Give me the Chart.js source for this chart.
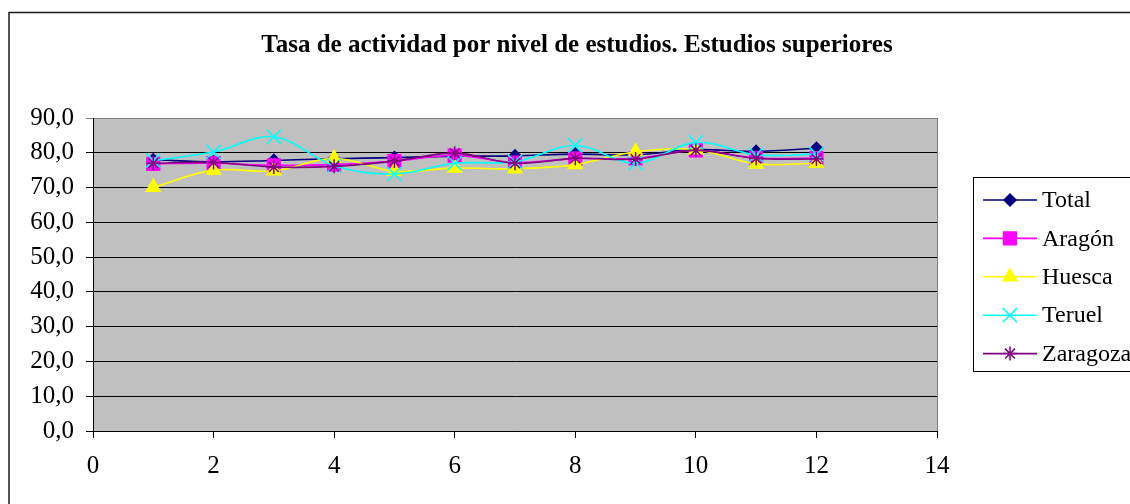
<!DOCTYPE html>
<html>
<head>
<meta charset="utf-8">
<script src="https://cdn.jsdelivr.net/npm/chart.js@4.4.0/dist/chart.umd.min.js"></script>
<style>
    html, body { margin: 0; padding: 0; background: #fff; }
    #wrap { width: 1130px; height: 504px; position: relative; }
</style>
</head>
<body>
<div id="wrap"><canvas id="tasaChart" width="1130" height="504"></canvas></div>
<script>
// chart data
const chartTitle = 'Tasa de actividad por nivel de estudios. Estudios superiores';
const xValues = [1, 2, 3, 4, 5, 6, 7, 8, 9, 10, 11, 12];
const seriesNames = ['Total', 'Aragón', 'Huesca', 'Teruel', 'Zaragoza'];
const total    = [78.0, 77.4, 77.8, 78.3, 78.6, 79.0, 79.1, 79.6, 79.4, 80.9, 80.4, 81.3];
const aragon   = [76.8, 77.0, 76.4, 76.6, 77.6, 79.2, 77.2, 78.3, 78.4, 80.7, 78.5, 78.5];
const huesca   = [70.1, 75.0, 74.8, 78.4, 74.7, 75.6, 75.4, 76.6, 80.3, 80.9, 76.8, 77.0];
const teruel   = [77.8, 80.2, 84.6, 76.3, 73.9, 77.0, 77.4, 82.1, 77.0, 83.0, 79.4, 79.6];
const zaragoza = [77.0, 77.2, 75.9, 76.1, 77.6, 79.9, 77.0, 78.4, 78.2, 80.7, 78.4, 78.2];
const seriesValues = [total, aragon, huesca, teruel, zaragoza];

const seriesColors = ['#000080', '#FF00FF', '#FFFF00', '#00FFFF', '#800080'];
const seriesMarkers = ['rectRot', 'rect', 'triangle', 'crossRot', 'star'];
const seriesMarkerSize = [6, 9, 8, 10, 7];

const serifFont = "'Liberation Serif', 'Times New Roman', serif";

const toPoints = (values) => values.map((v, i) => ({ x: xValues[i], y: v }));

const datasets = seriesNames.map((name, i) => ({
    label: name,
    data: toPoints(seriesValues[i]),
    borderColor: seriesColors[i],
    backgroundColor: seriesColors[i],
    borderWidth: 1.6,
    pointStyle: seriesMarkers[i],
    pointRadius: seriesMarkerSize[i],
    pointBorderWidth: 1.5,
    pointBorderColor: seriesColors[i],
    pointBackgroundColor: seriesColors[i],
    tension: 0.35,
    order: seriesNames.length - i
}));

// grey plot area + outer frame
const plotBackground = {
    id: 'plotBackground',
    beforeDraw(chart) {
        const { ctx, chartArea } = chart;
        ctx.save();
        ctx.fillStyle = '#fff';
        ctx.fillRect(0, 0, chart.width, chart.height);
        ctx.strokeStyle = '#1a1a1a';
        ctx.lineWidth = 1.5;
        ctx.strokeRect(9, 12.5, 1200, 600);
        ctx.fillStyle = '#C0C0C0';
        ctx.fillRect(chartArea.left, chartArea.top, chartArea.right - chartArea.left, chartArea.bottom - chartArea.top);
        ctx.strokeStyle = '#808080';
        ctx.lineWidth = 1;
        ctx.strokeRect(chartArea.left + 0.5, chartArea.top + 0.5, chartArea.right - chartArea.left, chartArea.bottom - chartArea.top);
        ctx.restore();
    }
};

// title and boxed legend (line + marker) like the spreadsheet original
const titleAndLegend = {
    id: 'titleAndLegend',
    afterDraw(chart) {
        const { ctx } = chart;
        ctx.save();
        ctx.fillStyle = '#000';
        ctx.font = 'bold 25px ' + serifFont;
        ctx.textAlign = 'center';
        ctx.textBaseline = 'middle';
        ctx.fillText(chartTitle, 577, 46);

        const boxX = 973.5, boxY = 177.5, boxH = 194;
        ctx.fillStyle = '#fff';
        ctx.fillRect(boxX, boxY, 300, boxH);
        ctx.strokeStyle = '#000';
        ctx.lineWidth = 1;
        ctx.strokeRect(boxX, boxY, 300, boxH);

        chart.data.datasets.forEach((ds, i) => {
            const y = 200 + i * 38.4;
            ctx.strokeStyle = ds.borderColor;
            ctx.lineWidth = 1.6;
            ctx.beginPath();
            ctx.moveTo(983, y);
            ctx.lineTo(1037, y);
            ctx.stroke();
            ctx.fillStyle = ds.pointBackgroundColor;
            ctx.strokeStyle = ds.pointBorderColor;
            ctx.lineWidth = 1.5;
            Chart.helpers.drawPoint(ctx, {
                pointStyle: ds.pointStyle,
                radius: ds.pointRadius,
                rotation: 0,
                borderWidth: 1.5
            }, 1010, y);
            ctx.fillStyle = '#000';
            ctx.font = '24px ' + serifFont;
            ctx.textAlign = 'left';
            ctx.textBaseline = 'middle';
            ctx.fillText(ds.label, 1042, y + 1);
        });
        ctx.restore();
    }
};

new Chart(document.getElementById('tasaChart'), {
    type: 'line',
    data: { datasets: datasets },
    options: {
        responsive: false,
        animation: false,
        devicePixelRatio: 1,
        layout: { padding: { left: 0, top: 118, right: 193, bottom: 0 } },
        plugins: {
            legend: { display: false },
            title: { display: false },
            tooltip: { enabled: false }
        },
        scales: {
            x: {
                type: 'linear',
                min: 0,
                max: 14,
                afterFit: (scale) => { scale.height = 73; },
                ticks: {
                    stepSize: 2,
                    color: '#000',
                    padding: 13,
                    maxRotation: 0,
                    font: { family: serifFont, size: 25 }
                },
                grid: { drawOnChartArea: false, color: '#000', tickLength: 7 },
                border: { color: '#000', width: 1 }
            },
            y: {
                min: 0,
                max: 90,
                afterFit: (scale) => { scale.width = 93; },
                ticks: {
                    stepSize: 10,
                    color: '#000',
                    padding: 12,
                    font: { family: serifFont, size: 25 },
                    callback: (v) => v.toFixed(1).replace('.', ',')
                },
                grid: {
                    color: (c) => (c.tick && c.tick.value === 90 ? '#808080' : '#000'),
                    lineWidth: 1,
                    tickLength: 7
                },
                border: { color: '#000', width: 1 }
            }
        }
    },
    plugins: [plotBackground, titleAndLegend]
});
</script>
</body>
</html>
